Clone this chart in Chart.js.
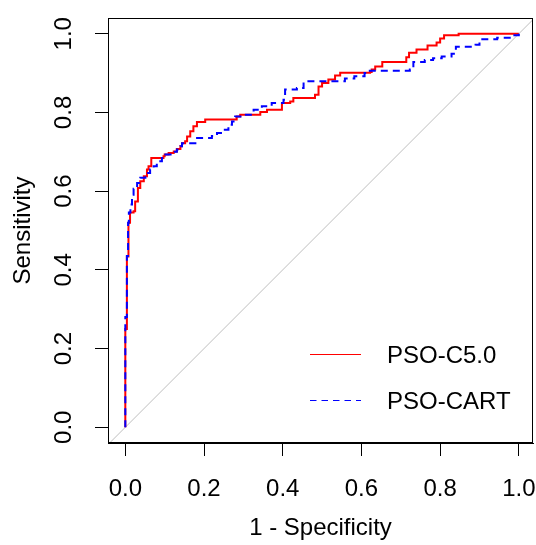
<!DOCTYPE html>
<html>
<head>
<meta charset="utf-8">
<script src="https://cdn.jsdelivr.net/npm/chart.js@4"></script>
<style>
  html, body { margin: 0; padding: 0; background: #fff; }
</style>
</head>
<body>
<canvas id="roc" width="536" height="545"></canvas>
<script>
// ROC curves (x = 1 - specificity, y = sensitivity)
var seriesNames = ['PSO-C5.0', 'PSO-CART'];

var c50Fpr = [0, 0, 0.004, 0.004, 0.008, 0.008, 0.012, 0.012, 0.021, 0.025, 0.032, 0.038, 0.047, 0.055, 0.059, 0.066,
  0.089, 0.097, 0.10, 0.11, 0.123, 0.131, 0.14, 0.144, 0.152, 0.157, 0.165, 0.173, 0.182, 0.203, 0.279, 0.283, 0.292,
  0.317, 0.343, 0.36, 0.398, 0.398, 0.419, 0.427, 0.478, 0.482, 0.491, 0.5, 0.516, 0.533, 0.546, 0.622, 0.626, 0.635,
  0.653, 0.71, 0.714, 0.721, 0.74, 0.768, 0.791, 0.8, 0.81, 0.847, 1.0];
var c50Tpr = [0, 0.25, 0.25, 0.434, 0.434, 0.52, 0.52, 0.546, 0.549, 0.574, 0.608, 0.625, 0.638, 0.655, 0.663, 0.684,
  0.684, 0.689, 0.693, 0.697, 0.701, 0.707, 0.714, 0.722, 0.727, 0.739, 0.752, 0.765, 0.776, 0.782, 0.782, 0.79, 0.794,
  0.794, 0.801, 0.807, 0.807, 0.824, 0.828, 0.837, 0.837, 0.845, 0.866, 0.875, 0.884, 0.894, 0.901, 0.903, 0.909, 0.917,
  0.928, 0.928, 0.94, 0.952, 0.96, 0.97, 0.978, 0.988, 0.996, 1.0, 1.0];

var cartFpr = [0, 0, 0.004, 0.004, 0.007, 0.007, 0.009, 0.013, 0.017, 0.021, 0.03, 0.038, 0.051, 0.063, 0.072, 0.08,
  0.093, 0.102, 0.118, 0.131, 0.14, 0.144, 0.173, 0.178, 0.22, 0.233, 0.25, 0.262, 0.271, 0.279, 0.3, 0.317, 0.326,
  0.347, 0.372, 0.402, 0.406, 0.436, 0.453, 0.554, 0.558, 0.582, 0.608, 0.613, 0.723, 0.732, 0.761, 0.782, 0.804,
  0.829, 0.84, 0.89, 0.9, 0.945, 0.98, 1.0];
var cartTpr = [0, 0.28, 0.28, 0.435, 0.435, 0.52, 0.546, 0.566, 0.591, 0.606, 0.621, 0.634, 0.646, 0.655, 0.663, 0.676,
  0.684, 0.693, 0.70, 0.706, 0.714, 0.722, 0.722, 0.735, 0.74, 0.748, 0.756, 0.769, 0.777, 0.79, 0.794, 0.794, 0.807,
  0.816, 0.824, 0.832, 0.858, 0.862, 0.879, 0.879, 0.886, 0.892, 0.9, 0.906, 0.909, 0.928, 0.933, 0.938, 0.942,
  0.949, 0.967, 0.972, 0.986, 0.99, 0.996, 1.0];

var chanceLine = [-0.1, 1.1];
var xTicks = [0, 0.2, 0.4, 0.6, 0.8, 1.0];
var yTicks = [0, 0.2, 0.4, 0.6, 0.8, 1.0];

function pts(xs, ys) {
  return xs.map(function (x, i) { return { x: x, y: ys[i] }; });
}

var font = 'Liberation Sans, Arial, sans-serif';

// scales should not ask for extra room for the end labels
function noPad(s) {
  s.paddingLeft = 0; s.paddingRight = 0; s.paddingTop = 0; s.paddingBottom = 0;
}

// box around the plot region plus the legend in the lower right
var frame = {
  id: 'frame',
  afterDatasetsDraw: function (chart) {
    var ctx = chart.ctx, a = chart.chartArea;
    ctx.save();
    ctx.strokeStyle = '#000';
    ctx.lineWidth = 1;
    ctx.strokeRect(Math.round(a.left) + 0.5, Math.round(a.top) + 0.5,
      Math.round(a.right - a.left) - 1, Math.round(a.bottom - a.top) - 1);

    var rows = [chart.data.datasets[1], chart.data.datasets[0]];
    var ys = [a.bottom - 89, a.bottom - 43];
    rows.forEach(function (ds, i) {
      ctx.beginPath();
      ctx.strokeStyle = ds.borderColor;
      ctx.lineWidth = 1;
      ctx.setLineDash(ds.borderDash ? [6.5, 5] : []);
      ctx.moveTo(a.right - 223, ys[i] + 0.5);
      ctx.lineTo(a.right - 172, ys[i] + 0.5);
      ctx.stroke();
      ctx.setLineDash([]);
      ctx.fillStyle = '#000';
      ctx.font = '24px ' + font;
      ctx.textBaseline = 'middle';
      ctx.textAlign = 'left';
      ctx.fillText(ds.label, a.right - 146, ys[i] + 2);
    });
    ctx.restore();
  }
};

new Chart(document.getElementById('roc').getContext('2d'), {
  type: 'scatter',
  data: {
    datasets: [
      {
        label: seriesNames[1],
        data: pts(cartFpr, cartTpr),
        showLine: true,
        stepped: 'before',
        borderColor: '#0000ff',
        borderWidth: 2,
        borderDash: [7, 5],
        pointRadius: 0,
        fill: false,
        order: 1
      },
      {
        label: seriesNames[0],
        data: pts(c50Fpr, c50Tpr),
        showLine: true,
        stepped: 'before',
        borderColor: '#ff0000',
        borderWidth: 2,
        pointRadius: 0,
        fill: false,
        order: 2
      },
      {
        label: '',
        data: pts(chanceLine, chanceLine),
        showLine: true,
        borderColor: '#bebebe',
        borderWidth: 1,
        pointRadius: 0,
        fill: false,
        order: 3
      }
    ]
  },
  options: {
    responsive: false,
    animation: false,
    devicePixelRatio: 1,
    layout: { padding: { left: 0, top: 18, right: 3, bottom: 0 } },
    plugins: {
      legend: { display: false },
      tooltip: { enabled: false }
    },
    scales: {
      x: {
        type: 'linear',
        min: -0.044,
        max: 1.036,
        afterBuildTicks: function (s) { s.ticks = xTicks.map(function (v) { return { value: v }; }); },
        afterFit: function (s) { s.height = 102; noPad(s); },
        ticks: {
          color: '#000',
          font: { family: font, size: 24 },
          padding: 19,
          maxRotation: 0,
          callback: function (v) { return v.toFixed(1); }
        },
        grid: { drawOnChartArea: false, color: '#000', tickLength: 13, lineWidth: 1 },
        border: { display: true, color: '#000' },
        title: {
          display: true,
          text: '1 - Specificity',
          color: '#000',
          font: { family: font, size: 24 },
          padding: { top: 0, bottom: 2 }
        }
      },
      y: {
        type: 'linear',
        min: -0.04,
        max: 1.04,
        afterBuildTicks: function (s) { s.ticks = yTicks.map(function (v) { return { value: v }; }); },
        afterFit: function (s) { s.width = 108; noPad(s); },
        ticks: {
          color: '#000',
          font: { family: font, size: 24 },
          padding: 14,
          minRotation: 90,
          maxRotation: 90,
          crossAlign: 'center',
          callback: function (v) { return v.toFixed(1); }
        },
        grid: { drawOnChartArea: false, color: '#000', tickLength: 13, lineWidth: 1 },
        border: { display: true, color: '#000' },
        title: {
          display: true,
          text: 'Sensitivity',
          color: '#000',
          font: { family: font, size: 24 },
          padding: { top: 9, bottom: 0 }
        }
      }
    }
  },
  plugins: [frame]
});
</script>
</body>
</html>
